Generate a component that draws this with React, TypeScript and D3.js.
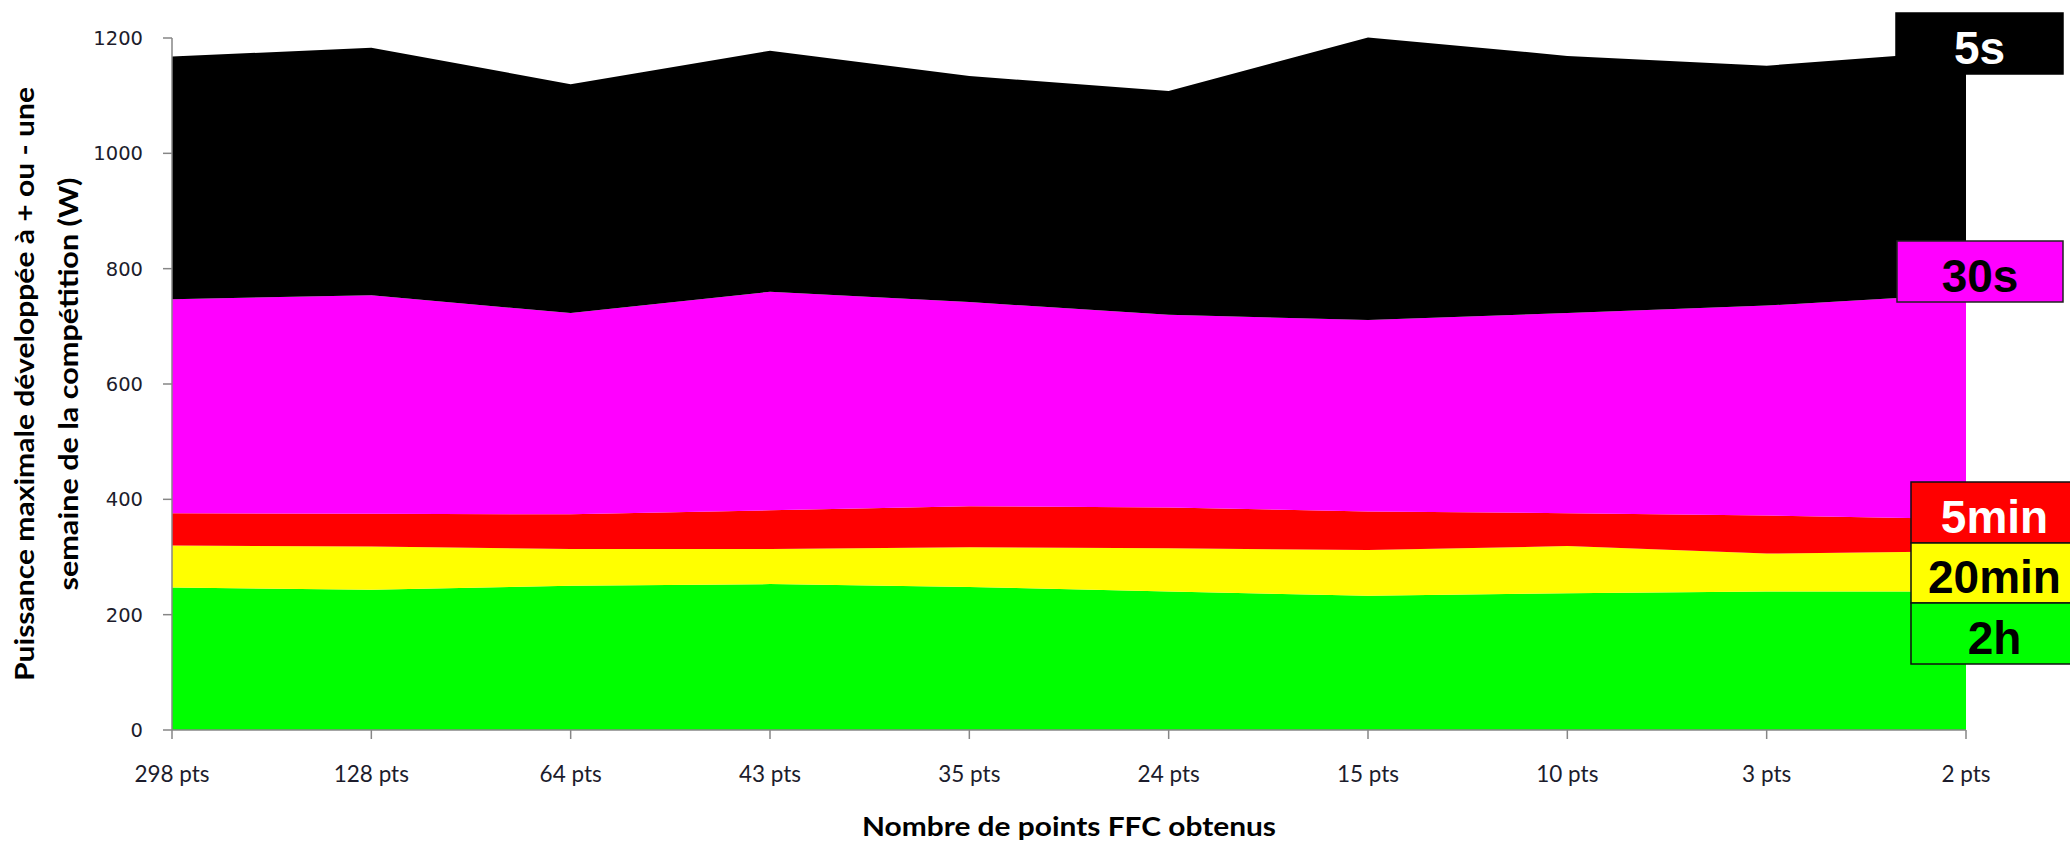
import React from "react";
import * as d3 from "d3";

// Power profile by FFC points: stacked areas, one band per effort duration
const categories = ["298 pts", "128 pts", "64 pts", "43 pts", "35 pts", "24 pts", "15 pts", "10 pts", "3 pts", "2 pts"];
const power2h = [247, 243, 250, 253, 248, 240, 233, 237, 240, 240];
const power20min = [73, 75, 64, 61, 69, 75, 79, 82, 66, 70];
const power5min = [56, 57, 60, 67, 71, 71, 67, 57, 66, 56];
const power30s = [371, 379, 349, 379, 354, 334, 332, 347, 364, 390];
const power5s = [421, 429, 397, 418, 392, 388, 490, 446, 416, 422];
const yTicks = [0, 200, 400, 600, 800, 1000, 1200];

const seriesKeys = ["2h", "20min", "5min", "30s", "5s"];
const seriesColors: Record<string, string> = {
  "2h": "#00FF00",
  "20min": "#FFFF00",
  "5min": "#FF0000",
  "30s": "#FF00FF",
  "5s": "#000000",
};

const yTitleLines = ["Puissance maximale développée à + ou - une", "semaine de la compétition (W)"];
const xTitle = "Nombre de points FFC obtenus";

// Duration tags shown at the right-hand side of the chart
const tags = [
  { key: "5s", text: "#FFFFFF", x: 1896, y: 13, w: 167, h: 61, stroke: "#000000" },
  { key: "30s", text: "#000000", x: 1897, y: 241, w: 166, h: 61, stroke: "#222222" },
  { key: "5min", text: "#FFFFFF", x: 1911, y: 482, w: 167, h: 61, stroke: "#111111" },
  { key: "20min", text: "#000000", x: 1911, y: 543, w: 167, h: 60, stroke: "#111111" },
  { key: "2h", text: "#000000", x: 1911, y: 603, w: 167, h: 61, stroke: "#111111" },
];

const W = 2070;
const H = 846;
const plot = { left: 172, right: 1966, top: 38, bottom: 730 };
const axisColor = "#868686";

export default function App() {
  const rows = categories.map((c, i) => ({
    cat: c,
    "2h": power2h[i],
    "20min": power20min[i],
    "5min": power5min[i],
    "30s": power30s[i],
    "5s": power5s[i],
  }));

  const stack = d3.stack<any>().keys(seriesKeys);
  const layers = stack(rows);

  const x = d3.scalePoint<string>().domain(categories).range([plot.left, plot.right]);
  const y = d3.scaleLinear().domain([0, 1200]).range([plot.bottom, plot.top]);

  const area = d3
    .area<any>()
    .x((d) => x(d.data.cat) as number)
    .y0((d) => y(d[0]))
    .y1((d) => y(d[1]));

  const tickLen = 9;
  const yCenter = (plot.top + plot.bottom) / 2;
  const xCenter = (plot.left + plot.right) / 2;

  return (
    <div style={{ position: "absolute", left: 0, top: 0 }}>
      <svg width={W} height={H} style={{ display: "block", background: "#fff" }}>
        {/* stacked bands */}
        {layers.map((layer) => (
          <path key={layer.key} d={area(layer) || ""} fill={seriesColors[layer.key]} />
        ))}

        {/* y axis */}
        <line x1={plot.left} x2={plot.left} y1={plot.top} y2={plot.bottom} stroke={axisColor} strokeWidth={1.5} />
        {yTicks.map((t) => (
          <g key={t}>
            <line x1={plot.left - tickLen} x2={plot.left} y1={y(t)} y2={y(t)} stroke={axisColor} strokeWidth={1.5} />
            <text
              x={143}
              y={y(t)}
              dy="0.36em"
              textAnchor="end"
              fontFamily="DejaVu Sans"
              fontSize={19.5}
              fill="#1c1c2c"
            >
              {t}
            </text>
          </g>
        ))}

        {/* x axis */}
        <line x1={plot.left} x2={plot.right} y1={plot.bottom} y2={plot.bottom} stroke={axisColor} strokeWidth={1.5} />
        {categories.map((c) => (
          <g key={c}>
            <line
              x1={x(c)}
              x2={x(c)}
              y1={plot.bottom}
              y2={plot.bottom + tickLen}
              stroke={axisColor}
              strokeWidth={1.5}
            />
            <text x={x(c)} y={782} textAnchor="middle" fontFamily="Lato" fontSize={22.5} fill="#1c1c2c">
              {c}
            </text>
          </g>
        ))}

        {/* axis titles */}
        <text
          transform={`translate(34,${yCenter}) rotate(-90)`}
          textAnchor="middle"
          fontFamily="Lato"
          fontWeight="bold"
          fontSize={27}
          fill="#000"
          textLength={594}
          lengthAdjust="spacingAndGlyphs"
        >
          {yTitleLines[0]}
        </text>
        <text
          transform={`translate(78,${yCenter}) rotate(-90)`}
          textAnchor="middle"
          fontFamily="Lato"
          fontWeight="bold"
          fontSize={27}
          fill="#000"
          textLength={413}
          lengthAdjust="spacingAndGlyphs"
        >
          {yTitleLines[1]}
        </text>
        <text
          x={xCenter}
          y={836}
          textAnchor="middle"
          fontFamily="Lato"
          fontWeight="bold"
          fontSize={27}
          fill="#000"
          textLength={414}
          lengthAdjust="spacingAndGlyphs"
        >
          {xTitle}
        </text>

        {/* duration tags */}
        {tags.map((t) => (
          <g key={t.key}>
            <rect x={t.x} y={t.y} width={t.w} height={t.h} fill={seriesColors[t.key]} stroke={t.stroke} strokeWidth={1.5} />
            <text
              x={t.x + t.w / 2}
              y={t.y + t.h / 2 + 20}
              textAnchor="middle"
              fontFamily="Liberation Sans"
              fontWeight="bold"
              fontSize={46}
              fill={t.text}
            >
              {t.key}
            </text>
          </g>
        ))}
      </svg>
    </div>
  );
}
